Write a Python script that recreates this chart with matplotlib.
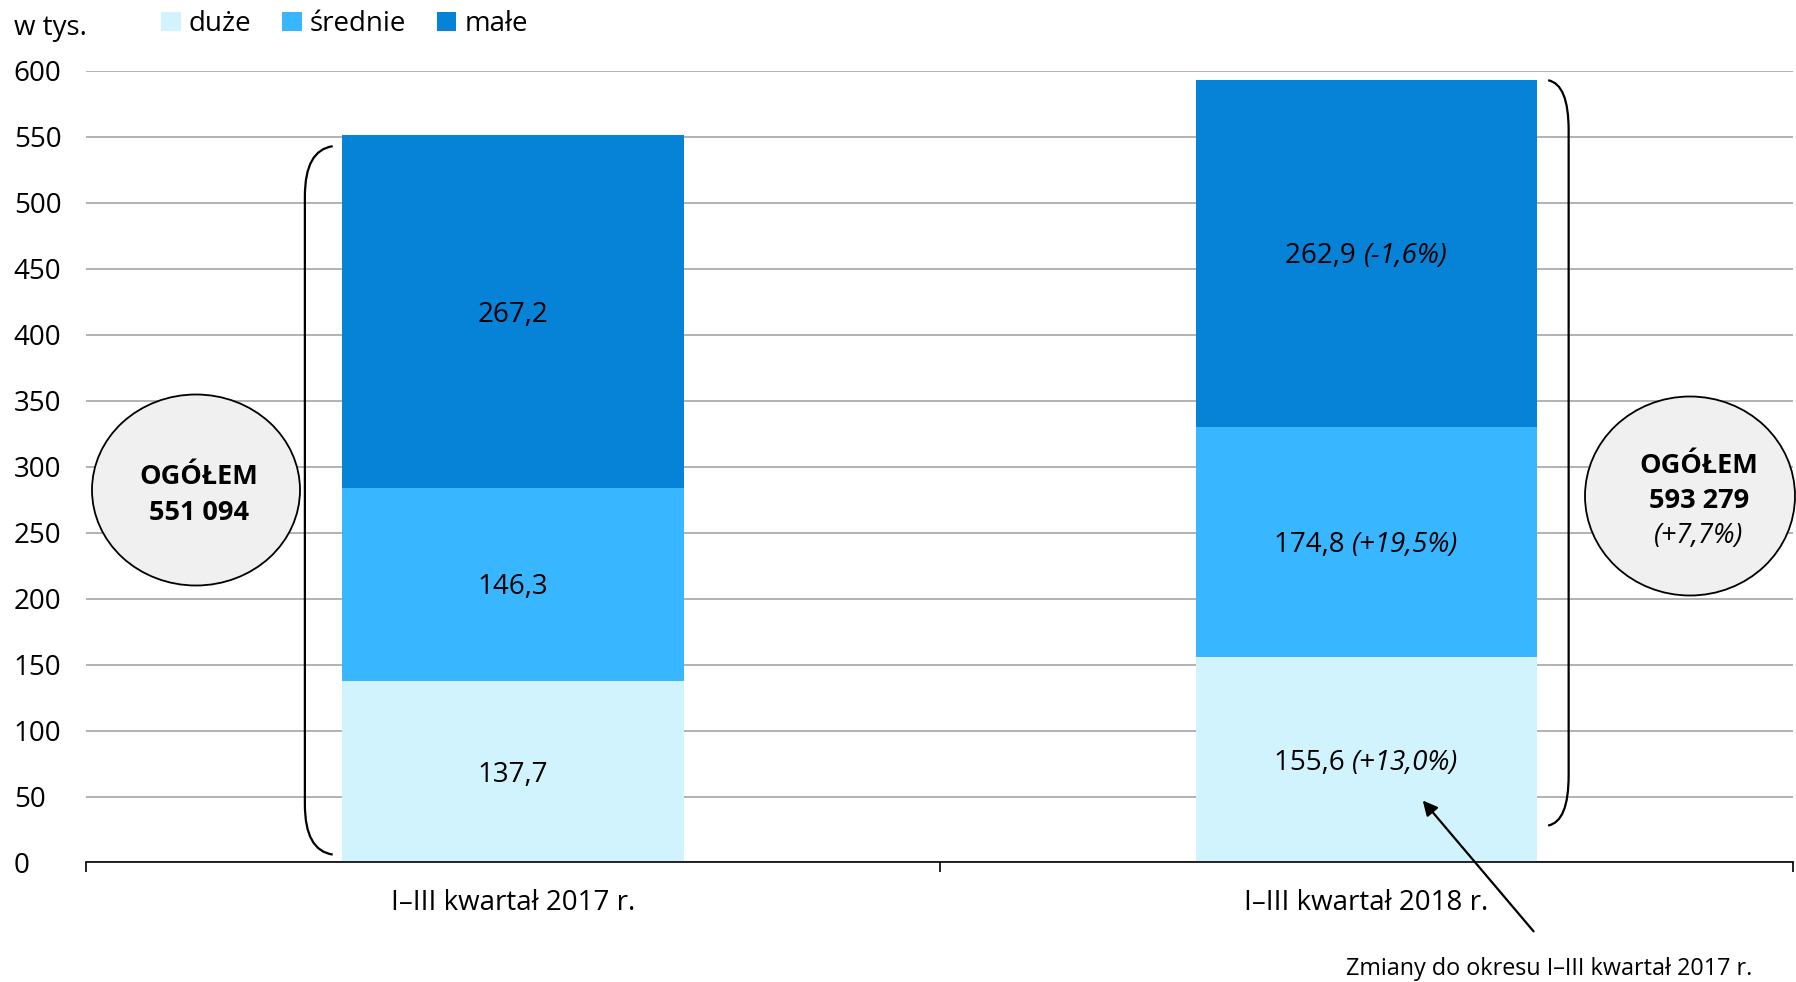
import matplotlib
matplotlib.use("Agg")
import matplotlib.pyplot as plt
from matplotlib.patches import Ellipse, PathPatch, Patch
from matplotlib.path import Path
from matplotlib.transforms import offset_copy
import numpy as np

plt.rcParams['font.family'] = ['Open Sans', 'DejaVu Sans']

categories = ["I–III kwartał 2017 r.", "I–III kwartał 2018 r."]
series_names = ["duże", "średnie", "małe"]
duze = [137.7, 155.6]
srednie = [146.3, 174.8]
male = [267.2, 262.9]
changes_duze = [None, "(+13,0%)"]
changes_srednie = [None, "(+19,5%)"]
changes_male = [None, "(-1,6%)"]
totals = ["551 094", "593 279"]
total_changes = [None, "(+7,7%)"]
yticks = [0, 50, 100, 150, 200, 250, 300, 350, 400, 450, 500, 550, 600]

colors = ["#D1F3FD", "#38B6FF", "#0683D7"]
FS = 20

fig = plt.figure(figsize=(17.96, 9.82), dpi=100)
ax = fig.add_axes([0.0479, 0.1217, 0.9505, 0.806])

x = np.arange(len(categories))
width = 0.4
series = [duze, srednie, male]
changes = [changes_duze, changes_srednie, changes_male]
bottom = np.zeros(len(categories))
for vals, col in zip(series, colors):
    ax.bar(x, vals, width, bottom=bottom, color=col, zorder=2)
    bottom += np.array(vals)

ax.set_xlim(-0.5, 1.5)
ax.set_ylim(0, 600)
ax.set_yticks(yticks)
ax.set_yticklabels([str(t) for t in yticks], fontsize=FS)
ax.yaxis.grid(True, color="#A6A6A6", linewidth=1.2, zorder=0)
ax.set_axisbelow(True)
for s in ["top", "right", "left"]:
    ax.spines[s].set_visible(False)
ax.spines["bottom"].set_color("black")
ax.spines["bottom"].set_linewidth(1.2)
ax.set_xticks([-0.5, 0.5, 1.5])
ax.set_xticklabels([])
ax.set_xticks(x, minor=True)
ax.set_xticklabels(categories, minor=True, fontsize=FS)
ax.tick_params(axis='x', which='major', length=7, width=1.2, direction='out')
ax.tick_params(axis='x', which='minor', length=0, pad=19)
for lab in ax.get_yticklabels():
    lab.set_horizontalalignment('left')
ax.tick_params(axis='y', length=0, pad=52)

fig.canvas.draw()
renderer = fig.canvas.get_renderer()

DY = -3  # small downward nudge in dots
for i in range(len(categories)):
    base = 0
    for vals, ch in zip(series, changes):
        mid = base + vals[i] / 2
        base += vals[i]
        main = f"{vals[i]:.1f}".replace(".", ",")
        if ch[i] is None:
            ax.text(x[i], mid, main, ha='center', va='center', fontsize=FS, zorder=3,
                    transform=offset_copy(ax.transData, fig=fig, x=0, y=DY, units='dots'))
        else:
            t1 = ax.text(0, 0, main + " ", fontsize=FS)
            t2 = ax.text(0, 0, ch[i], fontsize=FS, style='italic')
            w1 = t1.get_window_extent(renderer).width
            w2 = t2.get_window_extent(renderer).width
            tot = w1 + w2
            t1.remove(); t2.remove()
            ax.text(x[i], mid, main + " ", ha='left', va='center', fontsize=FS, zorder=3,
                    transform=offset_copy(ax.transData, fig=fig, x=-tot / 2, y=DY, units='dots'))
            ax.text(x[i], mid, ch[i], ha='left', va='center', fontsize=FS, style='italic', zorder=3,
                    transform=offset_copy(ax.transData, fig=fig, x=-tot / 2 + w1, y=DY, units='dots'))

# braces
def brace(xv, xe, y0, y1, curl=38):
    verts = [(xe, y1), (xv, y1 - 3), (xv, y1 - curl),
             (xv, y0 + curl), (xv, y0 + 3), (xe, y0)]
    codes = [Path.MOVETO, Path.CURVE3, Path.CURVE3,
             Path.LINETO, Path.CURVE3, Path.CURVE3]
    p = PathPatch(Path(verts, codes), fill=False, lw=1.6, ec='black', zorder=4, clip_on=False)
    ax.add_patch(p)

brace(-0.2436, -0.211, 6, 543)
brace(1.237, 1.213, 28, 593)

# circles (figure pixel-based)
W, H = 1796, 982
def circ(cx, cy, w, h):
    e = Ellipse((cx / W, 1 - cy / H), w / W, h / H, transform=fig.transFigure,
                facecolor="#F0F0F0", edgecolor="black", lw=1.3, zorder=5)
    fig.add_artist(e)

CF = 19.5
circ(196, 490, 208, 191)
fig.text(199 / W, 1 - 477 / H, "OGÓŁEM", ha='center', va='center', fontsize=CF, weight='bold', zorder=6)
fig.text(199 / W, 1 - 513 / H, totals[0], ha='center', va='center', fontsize=CF, weight='bold', zorder=6)

circ(1690, 496, 210, 199)
fig.text(1699 / W, 1 - 466 / H, "OGÓŁEM", ha='center', va='center', fontsize=CF, weight='bold', zorder=6)
fig.text(1699 / W, 1 - 501 / H, totals[1], ha='center', va='center', fontsize=CF, weight='bold', zorder=6)
fig.text(1699 / W, 1 - 536 / H, total_changes[1], ha='center', va='center', fontsize=CF, style='italic', zorder=6)

# arrow + note
ax.annotate("", xy=(1.064, 48.6), xytext=(1.198, -53.8),
            arrowprops=dict(arrowstyle="-|>", color="black", lw=1.6, mutation_scale=22),
            annotation_clip=False, zorder=6)
fig.text(1752 / W, 1 - 969 / H, "Zmiany do okresu I–III kwartał 2017 r.", ha='right', va='center', fontsize=16.8)

# unit label and legend
fig.text(14 / W, 1 - 28 / H, "w tys.", ha='left', va='center', fontsize=FS)
handles = [Patch(facecolor=c, edgecolor='none') for c in colors]
fig.legend(handles, series_names, loc='upper left', bbox_to_anchor=(150 / W, 1 + 1 / H), ncol=3,
           frameon=False, fontsize=FS, handlelength=0.7, handleheight=0.7, handletextpad=0.3,
           columnspacing=1.1, borderaxespad=0)

fig.savefig("out.png", dpi=100)
